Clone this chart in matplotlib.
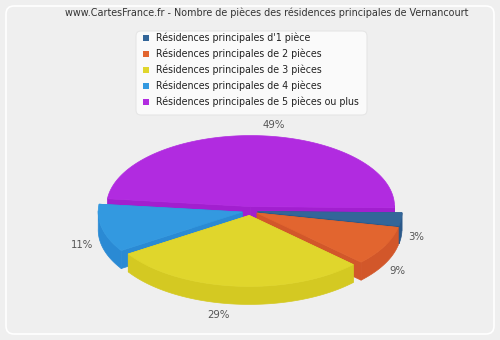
import numpy as np
import matplotlib
matplotlib.use("Agg")
import matplotlib.pyplot as plt
from matplotlib.patches import Polygon, FancyBboxPatch, Rectangle

title = "www.CartesFrance.fr - Nombre de pièces des résidences principales de Vernancourt"
categories = ["Résidences principales d'1 pièce",
              "Résidences principales de 2 pièces",
              "Résidences principales de 3 pièces",
              "Résidences principales de 4 pièces",
              "Résidences principales de 5 pièces ou plus"]
values = [3, 9, 29, 11, 49]
labels = ["3%", "9%", "29%", "11%", "49%"]
top_colors = ["#336699", "#E2652F", "#E0D62C", "#3399E0", "#B12BE0"]
side_colors = ["#2A5889", "#D2572A", "#D4C922", "#2A8AD4", "#A21FCF"]

W, H = 500, 340
fig = plt.figure(figsize=(W / 100, H / 100), dpi=100, facecolor="#EFEFEF")
ax = fig.add_axes([0, 0, 1, 1])
ax.set_xlim(0, W)
ax.set_ylim(H, 0)
ax.axis("off")

# frame
ax.add_patch(FancyBboxPatch((6, 6), W - 12, H - 12, boxstyle="round,pad=0,rounding_size=8",
                            facecolor="#EFEFEF", edgecolor="#FFFFFF", lw=1.2, zorder=0))

ax.text(W / 2 + 17, 13, title, ha="center", va="center", fontsize=6.95, color="#333333")

# legend
ax.add_patch(FancyBboxPatch((136, 31), 231, 84, boxstyle="round,pad=0,rounding_size=5",
                            facecolor="#FAFAFA", edgecolor="#E6E6E6", lw=0.8, zorder=1))
for i, (c, col) in enumerate(zip(categories, top_colors)):
    y = 38 + i * 16
    ax.add_patch(Rectangle((143, y - 3), 6, 6, facecolor=col, edgecolor="none", zorder=2))
    ax.text(156, y, c, ha="left", va="center", fontsize=6.85, color="#222222", zorder=2)

# 3D pie
cx, cy = 250, 211
rx, ry = 144, 71
h = 18
e = 8
theta0 = -1.0
fr = np.array(values, float) / np.sum(values)
ends = theta0 - np.cumsum(fr) * 360
starts = np.concatenate([[theta0], ends[:-1]])

def pt(t, ox, oy, dz=0):
    r = np.radians(t)
    return ox + rx * np.cos(r), oy - ry * np.sin(r) + dz

slices = []
for i in range(len(values)):
    a0, a1 = starts[i], ends[i]
    mid = (a0 + a1) / 2
    m = np.radians(mid)
    ox = cx + e * np.cos(m)
    oy = cy - (e + 1) * np.sin(m) * ry / rx
    slices.append((np.sin(m), i, a0, a1, mid, ox, oy))

order = sorted(slices, key=lambda s: -s[0])
z = 5
for sm, i, a0, a1, mid, ox, oy in order:
    tc, sc = top_colors[i], side_colors[i]
    for a in (a0, a1):
        px, py = pt(a, ox, oy)
        poly = [(ox, oy), (px, py), (px, py + h), (ox, oy + h)]
        ax.add_patch(Polygon(poly, closed=True, facecolor=sc, edgecolor=sc, lw=0.5, zorder=z))
    z += 1
    ts = np.linspace(a1, a0, 200)
    front = [t for t in ts if np.sin(np.radians(t)) <= 0.02]
    if front:
        xs, ys = pt(np.array(front), ox, oy)
        poly = list(zip(xs, ys)) + list(zip(xs[::-1], ys[::-1] + h))
        ax.add_patch(Polygon(poly, closed=True, facecolor=sc, edgecolor=sc, lw=0.5, zorder=z))
    z += 1
    xs, ys = pt(ts, ox, oy)
    poly = [(ox, oy)] + list(zip(xs, ys))
    ax.add_patch(Polygon(poly, closed=True, facecolor=tc, edgecolor=tc, lw=0.5, zorder=z))
    z += 1

# label placement (layout, relative to the pie)
label_pos = {0: (416, 237), 1: (397, 271), 2: (218, 315), 3: (82, 245), 4: (274, 125)}
for i, lab in enumerate(labels):
    lx, ly = label_pos[i]
    ax.text(lx, ly, lab, ha="center", va="center", fontsize=7.3, color="#555555", zorder=50)

fig.savefig("out.png", dpi=100, facecolor=fig.get_facecolor())
